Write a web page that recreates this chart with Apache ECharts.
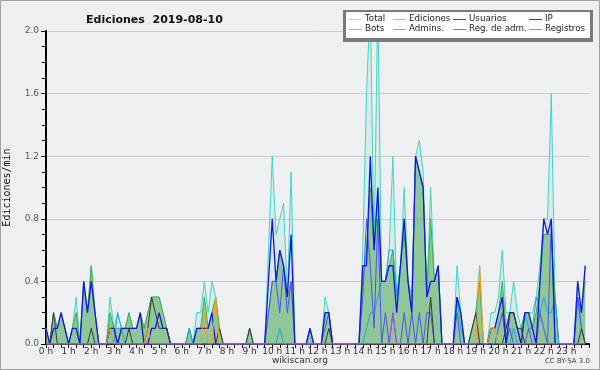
<!DOCTYPE html>
<html>
<head>
<meta charset="utf-8">
<script src="https://cdn.jsdelivr.net/npm/echarts@6/dist/echarts.min.js"></script>
<style>
  html, body { margin: 0; padding: 0; background: #eeeff1; }
  #chart { width: 600px; height: 370px; }
</style>
</head>
<body>
<div id="chart"></div>
<script>
// 10-minute bins, values in edits per minute (one row per hour)
var total = [
  0.1, 0, 0.2, 0.1, 0.2, 0.1,
  0, 0.1, 0.3, 0, 0.4, 0.2,
  0.5, 0.2, 0, 0, 0, 0.3,
  0.1, 0.2, 0.1, 0.1, 0.2, 0.1,
  0.1, 0.2, 0.1, 0.2, 0.3, 0.3,
  0.3, 0.2, 0.1, 0, 0, 0,
  0, 0, 0.1, 0, 0.2, 0.2,
  0.4, 0.2, 0.4, 0.3, 0.1, 0,
  0, 0, 0, 0, 0, 0,
  0.1, 0, 0, 0, 0, 0.6,
  1.2, 0.7, 0.8, 0.9, 0.3, 1.1,
  0, 0, 0, 0, 0.1, 0,
  0, 0, 0.3, 0.2, 0, 0,
  0, 0, 0, 0, 0, 0,
  0.6, 1.6, 2.2, 0.6, 2.2, 0.4,
  0.4, 0.6, 1.2, 0.3, 0.5, 1.0,
  0.4, 0.2, 1.2, 1.3, 1.1, 0.3,
  1.0, 0.4, 0.5, 0, 0, 0,
  0, 0.5, 0.2, 0, 0, 0.1,
  0.2, 0.5, 0, 0, 0.2, 0.2,
  0.3, 0.6, 0.2, 0.2, 0.4, 0.2,
  0.1, 0.2, 0.2, 0.2, 0.3, 0.5,
  0.8, 0.8, 1.6, 0.3, 0, 0,
  0, 0, 0, 0.4, 0.2, 0.5
];
var ediciones = [
  0.1, 0, 0.2, 0.1, 0.2, 0.1,
  0, 0.1, 0.2, 0, 0.4, 0.2,
  0.5, 0.2, 0, 0, 0, 0.2,
  0.1, 0.1, 0.1, 0.1, 0.2, 0.1,
  0.1, 0.2, 0.1, 0.2, 0.3, 0.3,
  0.3, 0.2, 0.1, 0, 0, 0,
  0, 0, 0.1, 0, 0.1, 0.1,
  0.3, 0.1, 0.2, 0.3, 0.1, 0,
  0, 0, 0, 0, 0, 0,
  0.1, 0, 0, 0, 0, 0.2,
  0.4, 0.4, 0.6, 0.5, 0.3, 0.4,
  0, 0, 0, 0, 0.1, 0,
  0, 0, 0.2, 0.2, 0, 0,
  0, 0, 0, 0, 0, 0,
  0.4, 0.6, 1.0, 0.6, 0.9, 0.4,
  0.4, 0.5, 0.6, 0.3, 0.5, 0.7,
  0.4, 0.2, 1.2, 1.1, 1.0, 0.3,
  0.8, 0.4, 0.5, 0, 0, 0,
  0, 0.3, 0.2, 0, 0, 0.1,
  0.2, 0.4, 0, 0, 0.1, 0.1,
  0.2, 0.4, 0.1, 0.2, 0.2, 0.1,
  0.1, 0.2, 0.2, 0.1, 0.2, 0.4,
  0.7, 0.7, 0.7, 0.3, 0, 0,
  0, 0, 0, 0.3, 0.2, 0.4
];
var usuarios = [
  0.1, 0, 0.1, 0.1, 0.2, 0.1,
  0, 0.1, 0.1, 0, 0.4, 0.2,
  0.4, 0.2, 0, 0, 0, 0.1,
  0.1, 0, 0.1, 0.1, 0.1, 0.1,
  0.1, 0.2, 0, 0, 0.1, 0.1,
  0.2, 0.1, 0.1, 0, 0, 0,
  0, 0, 0, 0, 0.1, 0.1,
  0.1, 0.1, 0.2, 0, 0, 0,
  0, 0, 0, 0, 0, 0,
  0, 0, 0, 0, 0, 0.4,
  0.8, 0.4, 0.6, 0.5, 0.3, 0.7,
  0, 0, 0, 0, 0.1, 0,
  0, 0, 0.2, 0.2, 0, 0,
  0, 0, 0, 0, 0, 0,
  0.5, 0.5, 1.2, 0.6, 1.0, 0.4,
  0.4, 0.5, 0.5, 0.2, 0.5, 0.8,
  0.4, 0.2, 1.2, 1.1, 1.0, 0.3,
  0.4, 0.4, 0.5, 0, 0, 0,
  0, 0.3, 0.2, 0, 0, 0,
  0, 0, 0, 0, 0.1, 0.1,
  0.2, 0.3, 0, 0.2, 0.2, 0.1,
  0, 0.2, 0.2, 0.1, 0, 0.4,
  0.8, 0.7, 0.8, 0, 0, 0,
  0, 0, 0, 0.4, 0.2, 0.5
];
var ip = [
  0, 0, 0.2, 0, 0, 0,
  0, 0, 0, 0, 0, 0,
  0.1, 0, 0, 0, 0, 0,
  0, 0, 0, 0, 0.1, 0,
  0, 0, 0, 0.1, 0.3, 0.2,
  0.1, 0.1, 0.1, 0, 0, 0,
  0, 0, 0, 0, 0, 0,
  0, 0, 0, 0, 0.1, 0,
  0, 0, 0, 0, 0, 0,
  0.1, 0, 0, 0, 0, 0,
  0, 0, 0, 0, 0, 0,
  0, 0, 0, 0, 0, 0,
  0, 0, 0, 0.1, 0, 0,
  0, 0, 0, 0, 0, 0,
  0, 0, 0, 0, 0, 0,
  0, 0, 0, 0, 0, 0,
  0, 0, 0, 0, 0, 0,
  0.3, 0, 0, 0, 0, 0,
  0, 0, 0, 0, 0, 0.1,
  0.2, 0, 0, 0, 0, 0,
  0, 0, 0.1, 0.2, 0.2, 0.1,
  0.1, 0, 0, 0, 0, 0,
  0, 0, 0, 0, 0, 0,
  0, 0, 0, 0, 0.1, 0
];
var bots = [
  0, 0, 0, 0, 0, 0,
  0, 0, 0, 0, 0, 0,
  0, 0, 0, 0, 0, 0.1,
  0, 0, 0, 0, 0, 0,
  0, 0, 0, 0.1, 0, 0,
  0, 0, 0, 0, 0, 0,
  0, 0, 0, 0, 0, 0,
  0.2, 0, 0, 0.3, 0, 0,
  0, 0, 0, 0, 0, 0,
  0, 0, 0, 0, 0, 0,
  0, 0, 0, 0, 0, 0,
  0, 0, 0, 0, 0, 0,
  0, 0, 0, 0, 0, 0,
  0, 0, 0, 0, 0, 0,
  0, 0, 0, 0, 0, 0,
  0, 0, 0, 0, 0, 0,
  0, 0, 0, 0, 0, 0,
  0, 0, 0, 0, 0, 0,
  0, 0, 0, 0, 0, 0,
  0, 0.5, 0, 0, 0.1, 0.1,
  0, 0, 0, 0, 0, 0,
  0, 0, 0, 0, 0, 0,
  0, 0, 0, 0, 0, 0,
  0, 0, 0, 0, 0, 0
];
var admins = [
  0, 0, 0, 0, 0, 0,
  0, 0, 0, 0, 0, 0,
  0, 0, 0, 0, 0, 0.1,
  0, 0.2, 0.1, 0, 0, 0,
  0, 0, 0, 0, 0, 0,
  0, 0, 0, 0, 0, 0,
  0, 0, 0.1, 0, 0, 0,
  0, 0, 0, 0, 0, 0,
  0, 0, 0, 0, 0, 0,
  0, 0, 0, 0, 0, 0,
  0, 0, 0.1, 0, 0, 0,
  0, 0, 0, 0, 0, 0,
  0, 0, 0, 0, 0, 0,
  0, 0, 0, 0, 0, 0,
  0, 0.1, 0.2, 0.2, 0.3, 0.4,
  0.4, 0.6, 0.6, 0.3, 0.5, 0.8,
  0.4, 0.3, 1.2, 1.1, 1.0, 0.3,
  0.4, 0.4, 0.5, 0, 0, 0,
  0, 0.3, 0.1, 0, 0, 0,
  0, 0, 0, 0, 0, 0,
  0, 0, 0, 0, 0.1, 0,
  0, 0.2, 0.1, 0.1, 0.3, 0.2,
  0.3, 0.2, 0.2, 0.3, 0, 0,
  0, 0, 0, 0.3, 0.1, 0
];
var regAdm = [
  0, 0, 0, 0, 0, 0,  0, 0, 0, 0, 0, 0,  0, 0, 0, 0, 0, 0,  0, 0, 0, 0, 0, 0,
  0, 0, 0, 0, 0, 0,  0, 0, 0, 0, 0, 0,  0, 0, 0, 0, 0, 0,  0, 0, 0, 0, 0, 0,
  0, 0, 0, 0, 0, 0,  0, 0, 0, 0, 0, 0,  0, 0, 0, 0, 0, 0,  0, 0, 0, 0, 0, 0,
  0, 0, 0, 0, 0, 0,  0, 0, 0, 0, 0, 0,  0, 0, 0, 0, 0, 0,  0, 0, 0.2, 0, 0, 0,
  0, 0, 0, 0, 0, 0,  0, 0, 0, 0, 0, 0,  0, 0, 0, 0, 0, 0,  0, 0, 0, 0, 0, 0,
  0, 0, 0, 0, 0, 0,  0, 0, 0, 0, 0, 0,  0, 0, 0, 0, 0, 0,  0, 0, 0, 0, 0, 0
];
var registros = [
  0, 0, 0, 0, 0, 0,
  0, 0, 0, 0, 0, 0,
  0, 0, 0, 0, 0, 0.1,
  0.1, 0, 0, 0, 0, 0,
  0, 0, 0, 0, 0, 0,
  0, 0, 0, 0, 0, 0,
  0, 0, 0, 0, 0, 0,
  0, 0, 0, 0, 0, 0,
  0, 0, 0, 0, 0, 0,
  0, 0, 0, 0, 0, 0.2,
  0.4, 0.4, 0.2, 0.5, 0.2, 0.4,
  0, 0, 0, 0, 0, 0,
  0, 0, 0.1, 0.2, 0, 0,
  0, 0, 0, 0, 0, 0,
  0.3, 0.8, 0.5, 0.1, 0.8, 0,
  0.2, 0, 0.2, 0, 0, 0.2,
  0, 0.2, 0, 0.2, 0, 0.2,
  0.2, 0, 0, 0, 0, 0,
  0, 0.2, 0, 0, 0, 0,
  0, 0, 0, 0, 0, 0,
  0.1, 0.2, 0, 0.1, 0, 0,
  0, 0, 0.1, 0, 0, 0.2,
  0.1, 0, 0.8, 0, 0, 0,
  0, 0, 0, 0.3, 0.1, 0
];
var hourLabels = ['0 h', '1 h', '2 h', '3 h', '4 h', '5 h', '6 h', '7 h', '8 h', '9 h', '10 h', '11 h',
  '12 h', '13 h', '14 h', '15 h', '16 h', '17 h', '18 h', '19 h', '20 h', '21 h', '22 h', '23 h'];

// one category per 10-minute bin, plus the closing 24:00
var bins = [];
for (var i = 0; i <= 144; i++) {
  bins.push(Math.floor(i / 6) + ':' + (i % 6) + '0');
}

var chart = echarts.init(document.getElementById('chart'));

function lineSeries(name, data, color, width, fill) {
  var s = {
    name: name,
    type: 'line',
    data: data,
    symbol: 'none',
    lineStyle: { color: color, width: width },
    itemStyle: { color: color },
    silent: true
  };
  if (fill) s.areaStyle = { color: fill, opacity: 1 };
  return s;
}

// legend drawn by hand: 2 rows x 4 columns in a shadowed box
var legendItems = [
  ['Total', '#a8e4e0', 349, 19], ['Ediciones', '#8fd08f', 393, 19],
  ['Usuarios', '#4848cc', 453, 19], ['IP', '#444444', 529, 19],
  ['Bots', '#f4a640', 349, 29], ['Admins.', '#48c4e0', 393, 29],
  ['Reg. de adm.', '#c855e0', 453, 29], ['Registros', '#8a8af0', 529, 29]
];
var graphics = [
  { type: 'rect', shape: { x: 0.5, y: 0.5, width: 599, height: 369 }, style: { fill: null, stroke: '#a0a0a0', lineWidth: 1 }, z: 100 },
  { type: 'rect', shape: { x: 343, y: 10, width: 250, height: 32 }, style: { fill: '#7a7a7a' }, z: 100 },
  { type: 'rect', shape: { x: 346, y: 12, width: 244, height: 26 }, style: { fill: '#ffffff' }, z: 101 }
];
legendItems.forEach(function (it) {
  graphics.push({ type: 'line', shape: { x1: it[2], y1: it[3] + 0.5, x2: it[2] + 13, y2: it[3] + 0.5 },
    style: { stroke: it[1], lineWidth: 1 }, z: 102 });
  graphics.push({ type: 'text', x: it[2] + 16, y: it[3],
    style: { text: it[0], fill: '#222', font: '8.7px "DejaVu Sans"', textVerticalAlign: 'middle' }, z: 102 });
});
graphics.push({ type: 'text', left: 'center', top: 356,
  style: { text: 'wikiscan.org', fill: '#333', font: '9px "DejaVu Sans"' }, z: 102 });
graphics.push({ type: 'text', right: 10, top: 358,
  style: { text: 'CC BY-SA 3.0', fill: '#444', font: '7px "DejaVu Sans"' }, z: 102 });

var option = {
  animation: false,
  backgroundColor: '#eeeff1',
  textStyle: { fontFamily: 'DejaVu Sans' },
  title: {
    text: 'Ediciones  2019-08-10',
    left: 81, top: 10,
    textStyle: { fontSize: 11, fontWeight: 'bold', color: '#111', fontFamily: 'DejaVu Sans' }
  },
  grid: { left: 46, right: 11, top: 31, bottom: 26, containLabel: false, outerBoundsMode: 'none' },
  xAxis: {
    type: 'category',
    data: bins,
    boundaryGap: false,
    axisLine: { lineStyle: { color: '#000', width: 2 } },
    axisTick: { interval: 1, length: 4, lineStyle: { color: '#000' } },
    axisLabel: {
      interval: 5, margin: 3, fontSize: 9, color: '#333',
      formatter: function (v, idx) { return hourLabels[idx / 6] || ''; }
    },
    splitLine: { show: false }
  },
  yAxis: {
    type: 'value',
    min: 0, max: 2.0, interval: 0.4,
    name: 'Ediciones/min',
    nameLocation: 'middle',
    nameGap: 34,
    nameRotate: 90,
    nameTextStyle: { fontFamily: 'DejaVu Sans Mono', fontSize: 10, color: '#111' },
    axisLine: { show: true, lineStyle: { color: '#000', width: 2 } },
    axisTick: { show: true, length: 5, lineStyle: { color: '#000' } },
    minorTick: { show: true, splitNumber: 4, length: 4, lineStyle: { color: '#000' } },
    axisLabel: { fontSize: 9, color: '#555', margin: 7, formatter: function (v) { return v.toFixed(1); } },
    splitLine: { lineStyle: { color: '#cccccc', width: 1 } }
  },
  series: [
    lineSeries('Total', total, '#3ed6c6', 1, 'rgba(170,230,222,0.35)'),
    lineSeries('Ediciones', ediciones, '#43ad43', 1, 'rgba(70,165,70,0.5)'),
    lineSeries('Admins.', admins, '#1aa8dc', 1),
    lineSeries('Registros', registros, '#5252f0', 1),
    lineSeries('Usuarios', usuarios, '#1616e0', 1.3),
    lineSeries('IP', ip, '#383838', 1),
    lineSeries('Bots', bots, '#ff9a10', 1),
    lineSeries('Reg. de adm.', regAdm, '#c040e8', 1)
  ],
  graphic: graphics
};
chart.setOption(option);
</script>
</body>
</html>
